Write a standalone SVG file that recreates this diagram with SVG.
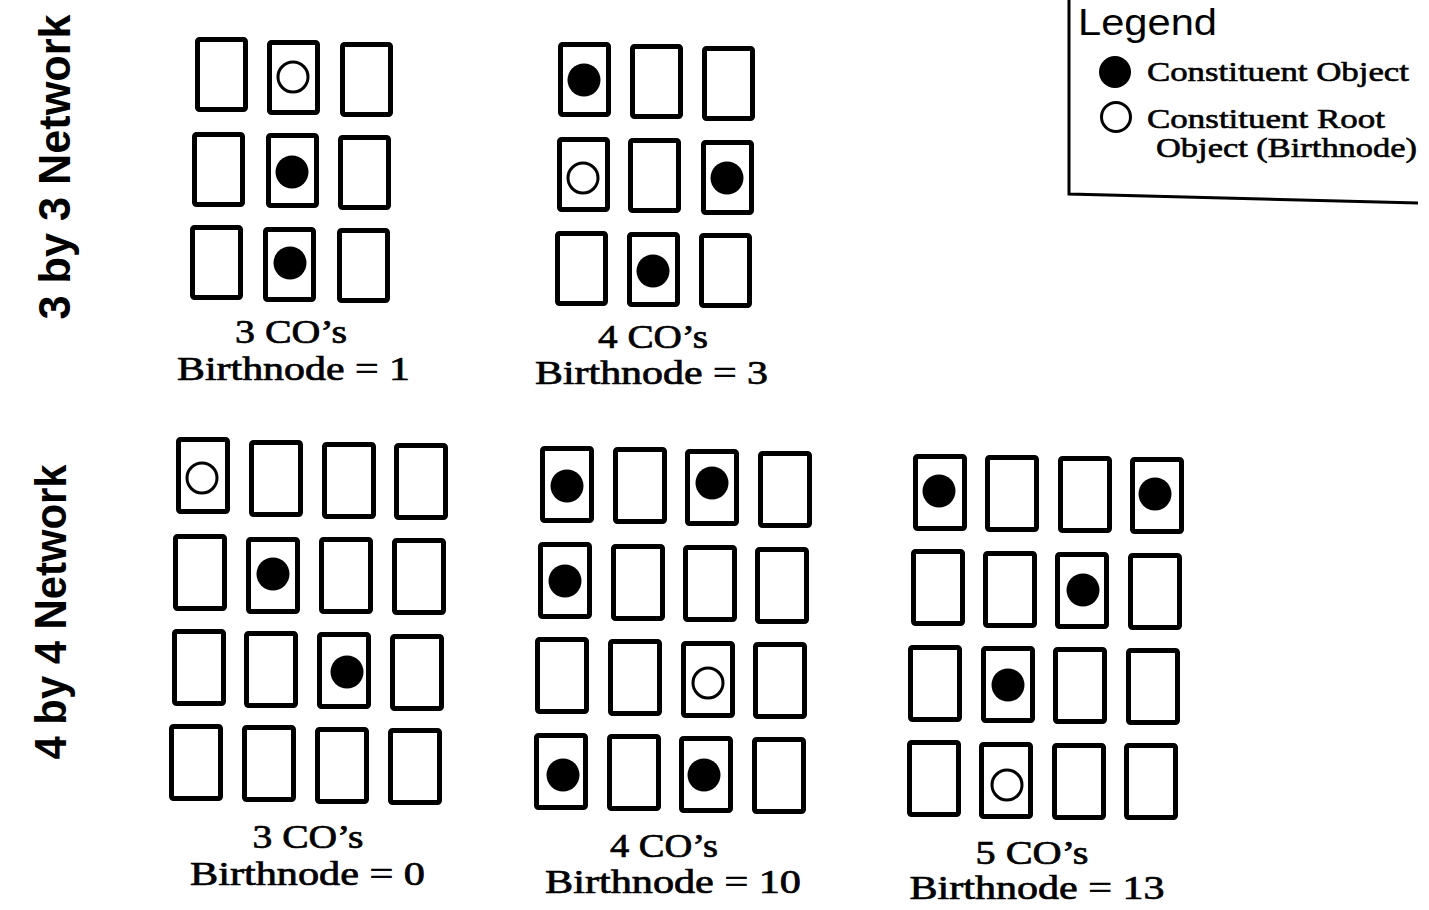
<svg xmlns="http://www.w3.org/2000/svg" width="1429" height="910" viewBox="0 0 1429 910">
<style>
.b{fill:#fff;stroke:#000;stroke-width:5;}
.f{fill:#000;}
.o{fill:#fff;stroke:#000;stroke-width:3;}
.lbl{font-family:"Liberation Serif","Times New Roman",serif;font-size:33px;fill:#000;stroke:#000;stroke-width:0.7;text-anchor:middle;}
.side{font-family:"Liberation Sans",Arial,sans-serif;font-weight:bold;font-size:44px;fill:#000;text-anchor:middle;}
.leg{font-family:"Liberation Serif","Times New Roman",serif;font-size:28px;fill:#000;stroke:#000;stroke-width:0.6;}
</style>
<rect width="1429" height="910" fill="#fff"/>
<g id="side-labels">
<text class="side" transform="translate(70,167) rotate(-90)" textLength="305" lengthAdjust="spacingAndGlyphs">3 by 3 Network</text>
<text class="side" transform="translate(66,612) rotate(-90)" textLength="295" lengthAdjust="spacingAndGlyphs">4 by 4 Network</text>
</g>
<g id="legend">
<path d="M1069,0 V194 L1418,203" fill="none" stroke="#000" stroke-width="3"/>
<text x="1078" y="35" font-family="'Liberation Sans',Arial,sans-serif" font-size="37" textLength="139" lengthAdjust="spacingAndGlyphs">Legend</text>
<circle class="f" cx="1115" cy="72" r="16"/>
<text class="leg" x="1147" y="81" textLength="262" lengthAdjust="spacingAndGlyphs">Constituent Object</text>
<circle class="o" cx="1116" cy="117" r="14.5"/>
<text class="leg" x="1147" y="128" textLength="238" lengthAdjust="spacingAndGlyphs">Constituent Root</text>
<text class="leg" x="1156" y="157" textLength="261" lengthAdjust="spacingAndGlyphs">Object (Birthnode)</text>
</g>
<g id="connectors"/>
<g id="grid-3x3-a">
<rect class="b" x="197.5" y="39.5" width="48" height="70" rx="2"/>
<rect class="b" x="269.5" y="42.5" width="48" height="70" rx="2"/>
<rect class="b" x="342.5" y="44.5" width="48" height="70" rx="2"/>
<rect class="b" x="194.5" y="134.5" width="48" height="70" rx="2"/>
<rect class="b" x="268.5" y="135.5" width="48" height="70" rx="2"/>
<rect class="b" x="340.5" y="137.5" width="48" height="70" rx="2"/>
<rect class="b" x="192.5" y="227.5" width="48" height="70" rx="2"/>
<rect class="b" x="265.5" y="229.5" width="48" height="70" rx="2"/>
<rect class="b" x="339.5" y="230.5" width="48" height="70" rx="2"/>
<circle class="o" cx="293" cy="77" r="15"/>
<circle class="f" cx="292" cy="172" r="16.5"/>
<circle class="f" cx="290" cy="263" r="16.5"/>
<text class="lbl" x="291" y="343" textLength="112" lengthAdjust="spacingAndGlyphs">3 CO’s</text>
<text class="lbl" x="293.5" y="380" textLength="233" lengthAdjust="spacingAndGlyphs">Birthnode = 1</text>
</g>
<g id="grid-3x3-b">
<rect class="b" x="560.5" y="44.5" width="48" height="70" rx="2"/>
<rect class="b" x="632.5" y="46.5" width="48" height="70" rx="2"/>
<rect class="b" x="704.5" y="48.5" width="48" height="70" rx="2"/>
<rect class="b" x="559.5" y="139.5" width="48" height="70" rx="2"/>
<rect class="b" x="630.5" y="140.5" width="48" height="70" rx="2"/>
<rect class="b" x="703.5" y="142.5" width="48" height="70" rx="2"/>
<rect class="b" x="557.5" y="233.5" width="48" height="70" rx="2"/>
<rect class="b" x="629.5" y="234.5" width="48" height="70" rx="2"/>
<rect class="b" x="701.5" y="235.5" width="48" height="70" rx="2"/>
<circle class="f" cx="584" cy="80" r="16.5"/>
<circle class="o" cx="583" cy="178" r="15"/>
<circle class="f" cx="727" cy="178" r="16.5"/>
<circle class="f" cx="653" cy="271" r="16.5"/>
<text class="lbl" x="653" y="348" textLength="110" lengthAdjust="spacingAndGlyphs">4 CO’s</text>
<text class="lbl" x="651.5" y="384" textLength="233" lengthAdjust="spacingAndGlyphs">Birthnode = 3</text>
</g>
<g id="grid-4x4-a">
<rect class="b" x="178.5" y="439.5" width="49" height="72" rx="2"/>
<rect class="b" x="251.5" y="442.5" width="49" height="72" rx="2"/>
<rect class="b" x="324.5" y="444.5" width="49" height="72" rx="2"/>
<rect class="b" x="396.5" y="445.5" width="49" height="72" rx="2"/>
<rect class="b" x="175.5" y="536.5" width="49" height="72" rx="2"/>
<rect class="b" x="248.5" y="539.5" width="49" height="72" rx="2"/>
<rect class="b" x="321.5" y="539.5" width="49" height="72" rx="2"/>
<rect class="b" x="394.5" y="540.5" width="49" height="72" rx="2"/>
<rect class="b" x="174.5" y="631.5" width="49" height="72" rx="2"/>
<rect class="b" x="246.5" y="633.5" width="49" height="72" rx="2"/>
<rect class="b" x="319.5" y="634.5" width="49" height="72" rx="2"/>
<rect class="b" x="392.5" y="636.5" width="49" height="72" rx="2"/>
<rect class="b" x="171.5" y="726.5" width="49" height="72" rx="2"/>
<rect class="b" x="244.5" y="727.5" width="49" height="72" rx="2"/>
<rect class="b" x="317.5" y="729.5" width="49" height="72" rx="2"/>
<rect class="b" x="390.5" y="730.5" width="49" height="72" rx="2"/>
<circle class="o" cx="202" cy="478" r="15"/>
<circle class="f" cx="273" cy="574" r="16.5"/>
<circle class="f" cx="347" cy="672" r="16.5"/>
<text class="lbl" x="308" y="848" textLength="111" lengthAdjust="spacingAndGlyphs">3 CO’s</text>
<text class="lbl" x="307.5" y="885" textLength="235" lengthAdjust="spacingAndGlyphs">Birthnode = 0</text>
</g>
<g id="grid-4x4-b">
<rect class="b" x="542.5" y="448.5" width="49" height="72" rx="2"/>
<rect class="b" x="615.5" y="449.5" width="49" height="72" rx="2"/>
<rect class="b" x="687.5" y="451.5" width="49" height="72" rx="2"/>
<rect class="b" x="760.5" y="453.5" width="49" height="72" rx="2"/>
<rect class="b" x="540.5" y="544.5" width="49" height="72" rx="2"/>
<rect class="b" x="613.5" y="546.5" width="49" height="72" rx="2"/>
<rect class="b" x="685.5" y="547.5" width="49" height="72" rx="2"/>
<rect class="b" x="757.5" y="549.5" width="49" height="72" rx="2"/>
<rect class="b" x="537.5" y="639.5" width="49" height="72" rx="2"/>
<rect class="b" x="610.5" y="641.5" width="49" height="72" rx="2"/>
<rect class="b" x="683.5" y="643.5" width="49" height="72" rx="2"/>
<rect class="b" x="755.5" y="644.5" width="49" height="72" rx="2"/>
<rect class="b" x="536.5" y="735.5" width="49" height="72" rx="2"/>
<rect class="b" x="609.5" y="736.5" width="49" height="72" rx="2"/>
<rect class="b" x="681.5" y="738.5" width="49" height="72" rx="2"/>
<rect class="b" x="754.5" y="739.5" width="49" height="72" rx="2"/>
<circle class="f" cx="567" cy="486" r="16.5"/>
<circle class="f" cx="712" cy="483" r="16.5"/>
<circle class="f" cx="565" cy="581" r="16.5"/>
<circle class="o" cx="708" cy="683" r="15"/>
<circle class="f" cx="563" cy="775" r="16.5"/>
<circle class="f" cx="704" cy="775" r="16.5"/>
<text class="lbl" x="664" y="857" textLength="108" lengthAdjust="spacingAndGlyphs">4 CO’s</text>
<text class="lbl" x="673" y="893" textLength="256" lengthAdjust="spacingAndGlyphs">Birthnode = 10</text>
</g>
<g id="grid-4x4-c">
<rect class="b" x="915.5" y="456.5" width="49" height="72" rx="2"/>
<rect class="b" x="987.5" y="457.5" width="49" height="72" rx="2"/>
<rect class="b" x="1060.5" y="458.5" width="49" height="72" rx="2"/>
<rect class="b" x="1132.5" y="459.5" width="49" height="72" rx="2"/>
<rect class="b" x="913.5" y="551.5" width="49" height="72" rx="2"/>
<rect class="b" x="985.5" y="553.5" width="49" height="72" rx="2"/>
<rect class="b" x="1057.5" y="554.5" width="49" height="72" rx="2"/>
<rect class="b" x="1130.5" y="555.5" width="49" height="72" rx="2"/>
<rect class="b" x="910.5" y="647.5" width="49" height="72" rx="2"/>
<rect class="b" x="983.5" y="648.5" width="49" height="72" rx="2"/>
<rect class="b" x="1055.5" y="649.5" width="49" height="72" rx="2"/>
<rect class="b" x="1128.5" y="650.5" width="49" height="72" rx="2"/>
<rect class="b" x="909.5" y="742.5" width="49" height="72" rx="2"/>
<rect class="b" x="981.5" y="744.5" width="49" height="72" rx="2"/>
<rect class="b" x="1054.5" y="745.5" width="49" height="72" rx="2"/>
<rect class="b" x="1126.5" y="745.5" width="49" height="72" rx="2"/>
<circle class="f" cx="939" cy="491" r="16.5"/>
<circle class="f" cx="1155" cy="494" r="16.5"/>
<circle class="f" cx="1083" cy="590" r="16.5"/>
<circle class="f" cx="1008" cy="685" r="16.5"/>
<circle class="o" cx="1007" cy="785" r="15"/>
<text class="lbl" x="1032" y="864" textLength="113" lengthAdjust="spacingAndGlyphs">5 CO’s</text>
<text class="lbl" x="1037" y="899" textLength="255" lengthAdjust="spacingAndGlyphs">Birthnode = 13</text>
</g>
</svg>
